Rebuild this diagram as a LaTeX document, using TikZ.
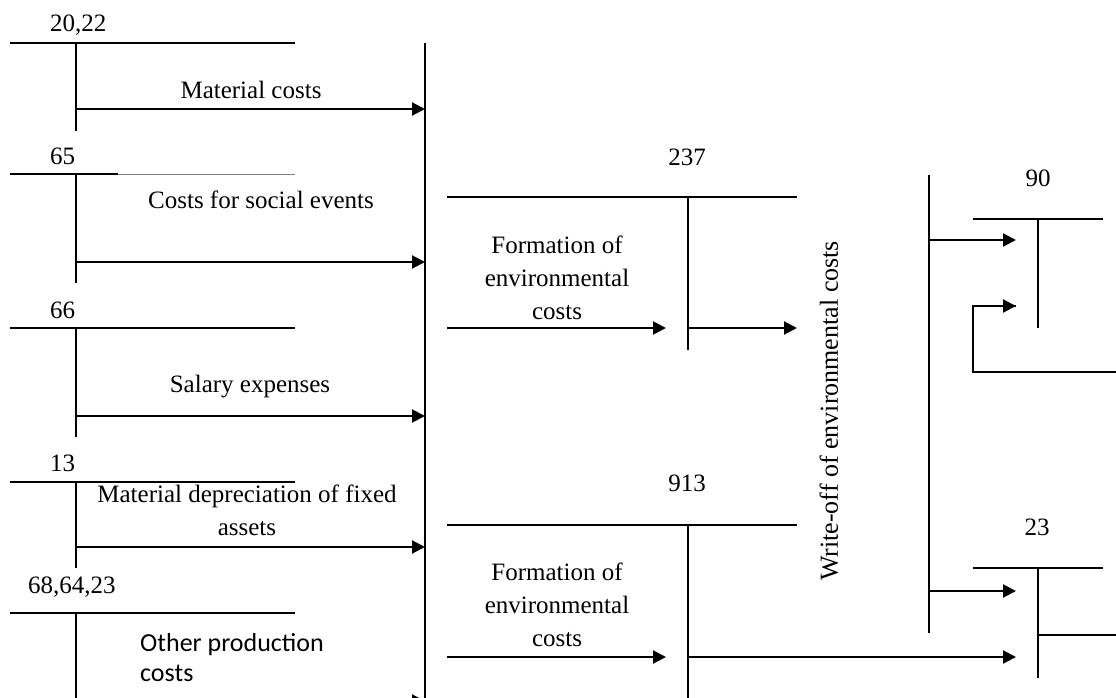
\documentclass[tikz,border=0pt]{standalone}
\usepackage{fontspec}
\setmainfont{Liberation Serif}
\newfontfamily\calib{Carlito}
\usetikzlibrary{arrows.meta}

\tikzset{
  acct/.style={line width=1.6pt},
  flow/.style={line width=2.1pt,-{Triangle[length=13pt,width=13pt]}},
  lbl/.style={font=\fontsize{25}{33}\selectfont,align=center,inner sep=0pt},
  num/.style={lbl,anchor=west}
}

\begin{document}
\begin{tikzpicture}[x=1pt,y=-1pt]
  \useasboundingbox (0,0) rectangle (1116,698);
  \clip (0,0) rectangle (1116,698);

  % cost accounts on the left
  \foreach \i/\yl/\ye/\ya in {1/43/131/109,2/174/283/262,3/328/437/416,4/482/568/547,5/613/710/701} {
    \coordinate (s\i) at (76,\yl);
    \coordinate (e\i) at (76,\ye);
    \coordinate (f\i) at (76,\ya);
    \coordinate (g\i) at (425,\ya);
    \draw[acct] (s\i) -- (e\i);
    \draw[flow] (f\i) -- (g\i);
  }
  \foreach \i/\yl in {1/43,3/328,4/482,5/613} {
    \coordinate (t\i) at (10,\yl);
    \coordinate (u\i) at (295,\yl);
    \draw[acct] (t\i) -- (u\i);
  }
  \coordinate (t2) at (10,174);
  \coordinate (m2) at (118,174);
  \coordinate (u2) at (295,174);
  \draw[acct] (t2) -- (m2);
  \draw[line width=0.8pt,gray] (m2) -- (u2);

  \node[num] (n1) at (50,25) {20,22};
  \node[num] (n2) at (50,156) {65};
  \node[num] (n3) at (50,310) {66};
  \node[num] (n4) at (50,463) {13};
  \node[num] (n5) at (28,587) {68,64,23};

  \node[lbl] (l1) at (251,90) {Material costs};
  \node[lbl] (l2) at (261,200) {Costs for social events};
  \node[lbl] (l3) at (250,387) {Salary expenses};
  \node[lbl] (l4) at (247,510) {Material depreciation of fixed\\assets};
  \node[lbl,font=\calib\fontsize{26}{30}\selectfont,align=left,anchor=west] (l5) at (140,658) {Other production\\costs};

  % collecting account
  \coordinate (ct) at (425,43);
  \coordinate (cb) at (425,710);
  \draw[acct] (ct) -- (cb);

  % environmental cost accounts
  \foreach \j/\yl/\ye/\ya in {a/197/350/328,b/525/710/657} {
    \coordinate (h\j) at (447,\yl);
    \coordinate (k\j) at (797,\yl);
    \coordinate (v\j) at (688,\yl);
    \coordinate (w\j) at (688,\ye);
    \coordinate (p\j) at (447,\ya);
    \coordinate (q\j) at (666,\ya);
    \coordinate (r\j) at (688,\ya);
    \draw[acct] (h\j) -- (k\j);
    \draw[acct] (v\j) -- (w\j);
    \draw[flow] (p\j) -- (q\j);
  }
  \node[lbl] (na) at (687,157) {237};
  \node[lbl] (nb) at (687,483) {913};
  \node[lbl] (fa) at (557,278) {Formation of\\environmental\\costs};
  \node[lbl] (fb) at (557,605) {Formation of\\environmental\\costs};
  \coordinate (oa) at (797,328);
  \draw[flow] (ra) -- (oa);

  % write-off
  \coordinate (wt) at (929,175);
  \coordinate (wb) at (929,633);
  \draw[acct] (wt) -- (wb);
  \node[lbl,font=\fontsize{26}{33}\selectfont,rotate=90] (wo) at (829,411) {Write-off of environmental costs};

  \foreach \j/\yl/\ye in {c/219/328,d/568/678} {
    \coordinate (h\j) at (973,\yl);
    \coordinate (k\j) at (1103,\yl);
    \coordinate (v\j) at (1038,\yl);
    \coordinate (w\j) at (1038,\ye);
    \draw[acct] (h\j) -- (k\j);
    \draw[acct] (v\j) -- (w\j);
  }
  \node[lbl] (nc) at (1038,178) {90};
  \node[lbl] (nd) at (1037,527) {23};

  \coordinate (x1) at (929,240);
  \coordinate (y1) at (1016,240);
  \coordinate (x2) at (929,591);
  \coordinate (y2) at (1016,591);
  \draw[flow] (x1) -- (y1);
  \draw[flow] (x2) -- (y2);

  \coordinate (z0) at (1116,372);
  \coordinate (z1) at (973,372);
  \coordinate (z2) at (973,306);
  \coordinate (z3) at (1016,306);
  \draw[acct] (z0) -- (z1) -- (z2) -- (z3);
  \draw[flow] (z2) -- (z3);

  \coordinate (y3) at (1016,657);
  \draw[flow] (rb) -- (y3);
  \coordinate (d1) at (1038,635);
  \coordinate (d2) at (1116,635);
  \draw[acct] (d1) -- (d2);
\end{tikzpicture}
\end{document}
